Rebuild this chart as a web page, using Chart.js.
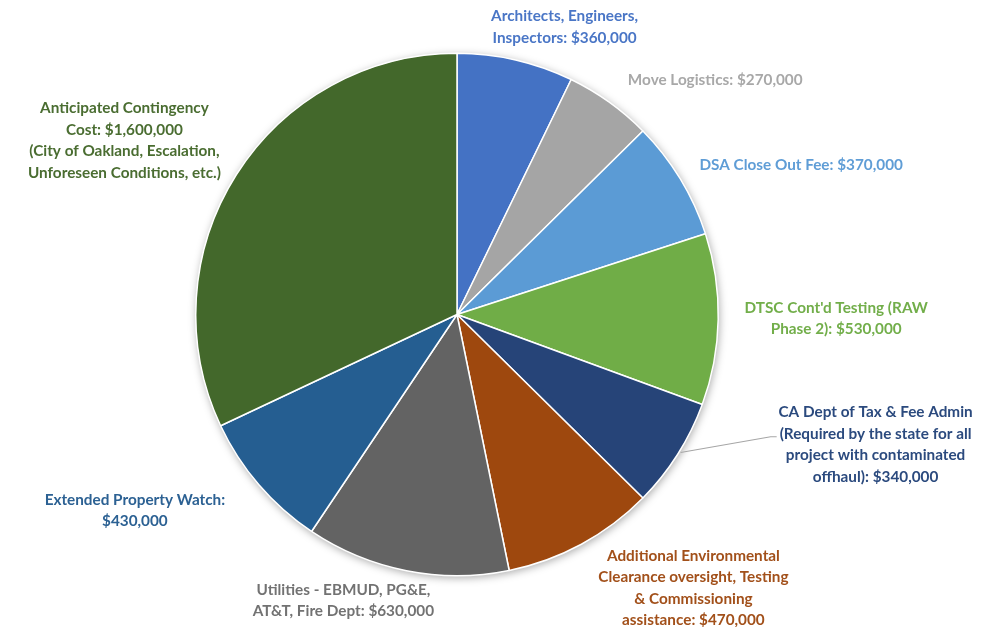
<!DOCTYPE html>
<html>
<head>
<meta charset="utf-8">
<script src="https://cdn.jsdelivr.net/npm/chart.js@4/dist/chart.umd.min.js"></script>
<style>
html,body{margin:0;padding:0;background:#fff;}
#wrap{width:988px;height:627px;position:relative;}
</style>
</head>
<body>
<div id="wrap"><canvas id="c" width="988" height="627"></canvas></div>
<script>
const categories = [
  "Architects, Engineers, Inspectors",
  "Move Logistics",
  "DSA Close Out Fee",
  "DTSC Cont'd Testing (RAW Phase 2)",
  "CA Dept of Tax & Fee Admin",
  "Additional Environmental Clearance oversight, Testing & Commissioning assistance",
  "Utilities - EBMUD, PG&E, AT&T, Fire Dept",
  "Extended Property Watch",
  "Anticipated Contingency Cost"
];
const values = [360000, 270000, 370000, 530000, 340000, 470000, 630000, 430000, 1600000];
const labelLines = [
  ["Architects, Engineers,", "Inspectors: $360,000"],
  ["Move Logistics: $270,000"],
  ["DSA Close Out Fee: $370,000"],
  ["DTSC Cont'd Testing (RAW", "Phase 2): $530,000"],
  ["CA Dept of Tax & Fee Admin", "(Required by the state for all", "project with contaminated", "offhaul): $340,000"],
  ["Additional Environmental", "Clearance oversight, Testing", "& Commissioning", "assistance: $470,000"],
  ["Utilities - EBMUD, PG&E,", "AT&T, Fire Dept: $630,000"],
  ["Extended Property Watch:", "$430,000"],
  ["Anticipated Contingency", "Cost: $1,600,000", "(City of Oakland, Escalation,", "Unforeseen Conditions, etc.)"]
];
const colors = ["#4472C4", "#A5A5A5", "#5B9BD5", "#70AD47", "#264478", "#9E480E", "#636363", "#255E91", "#43682B"];
const textColors = ["#4a76c6", "#a8a8a8", "#5f9dd6", "#72ae4a", "#2b4a7e", "#a2501a", "#727272", "#2c6193", "#4a6d31"];
// label offset from the slice's outer-edge midpoint (layout only)
const labelOffsets = [[49,-33],[106,-22],[121,-14],[118,-1],[198,-10],[112,44],[-63,30],[-124,26],[-112,-34]];
const leaderIndex = 4;

const labelPlugin = {
  id: 'pieLabels',
  beforeDatasetsDraw(chart) {
    const meta = chart.getDatasetMeta(0);
    const a = meta.data[0];
    if (!a) return;
    const ctx = chart.ctx;
    ctx.save();
    ctx.shadowColor = 'rgba(0,0,0,0.35)';
    ctx.shadowBlur = 9;
    ctx.shadowOffsetX = 1;
    ctx.shadowOffsetY = 2;
    ctx.fillStyle = '#ffffff';
    ctx.beginPath();
    ctx.arc(a.x, a.y, a.outerRadius, 0, Math.PI * 2);
    ctx.fill();
    ctx.restore();
  },
  afterDatasetsDraw(chart) {
    const meta = chart.getDatasetMeta(0);
    const ctx = chart.ctx;
    ctx.save();
    ctx.font = 'bold 15.3px Lato, "Open Sans", sans-serif';
    ctx.textAlign = 'center';
    ctx.textBaseline = 'middle';
    const lh = 21.5;
    meta.data.forEach((arc, i) => {
      const mid = (arc.startAngle + arc.endAngle) / 2;
      const ex = arc.x + Math.cos(mid) * arc.outerRadius;
      const ey = arc.y + Math.sin(mid) * arc.outerRadius;
      const lx = ex + labelOffsets[i][0];
      const ly = ey + labelOffsets[i][1];
      const lines = labelLines[i];
      if (i === leaderIndex) {
        const top = ly - (lines.length - 1) * lh / 2;
        const tx = lx - ctx.measureText(lines[1]).width / 2 - 3;
        const ty = top + lh + 3;
        ctx.strokeStyle = '#a6a6a6';
        ctx.lineWidth = 1.2;
        ctx.beginPath();
        ctx.moveTo(ex + 3, ey - 2);
        ctx.lineTo(tx - 6, ty);
        ctx.lineTo(tx, ty);
        ctx.stroke();
      }
      ctx.fillStyle = textColors[i];
      lines.forEach((t, k) => {
        ctx.fillText(t, lx, ly + (k - (lines.length - 1) / 2) * lh);
      });
    });
    ctx.restore();
  }
};

new Chart(document.getElementById('c'), {
  type: 'pie',
  data: {
    labels: categories,
    datasets: [{
      data: values,
      backgroundColor: colors,
      borderColor: '#ffffff',
      borderWidth: 1.5
    }]
  },
  options: {
    responsive: false,
    animation: false,
    layout: { padding: { left: 195, right: 269, top: 52, bottom: 50 } },
    plugins: { legend: { display: false }, tooltip: { enabled: false } }
  },
  plugins: [labelPlugin]
});
</script>
</body>
</html>
